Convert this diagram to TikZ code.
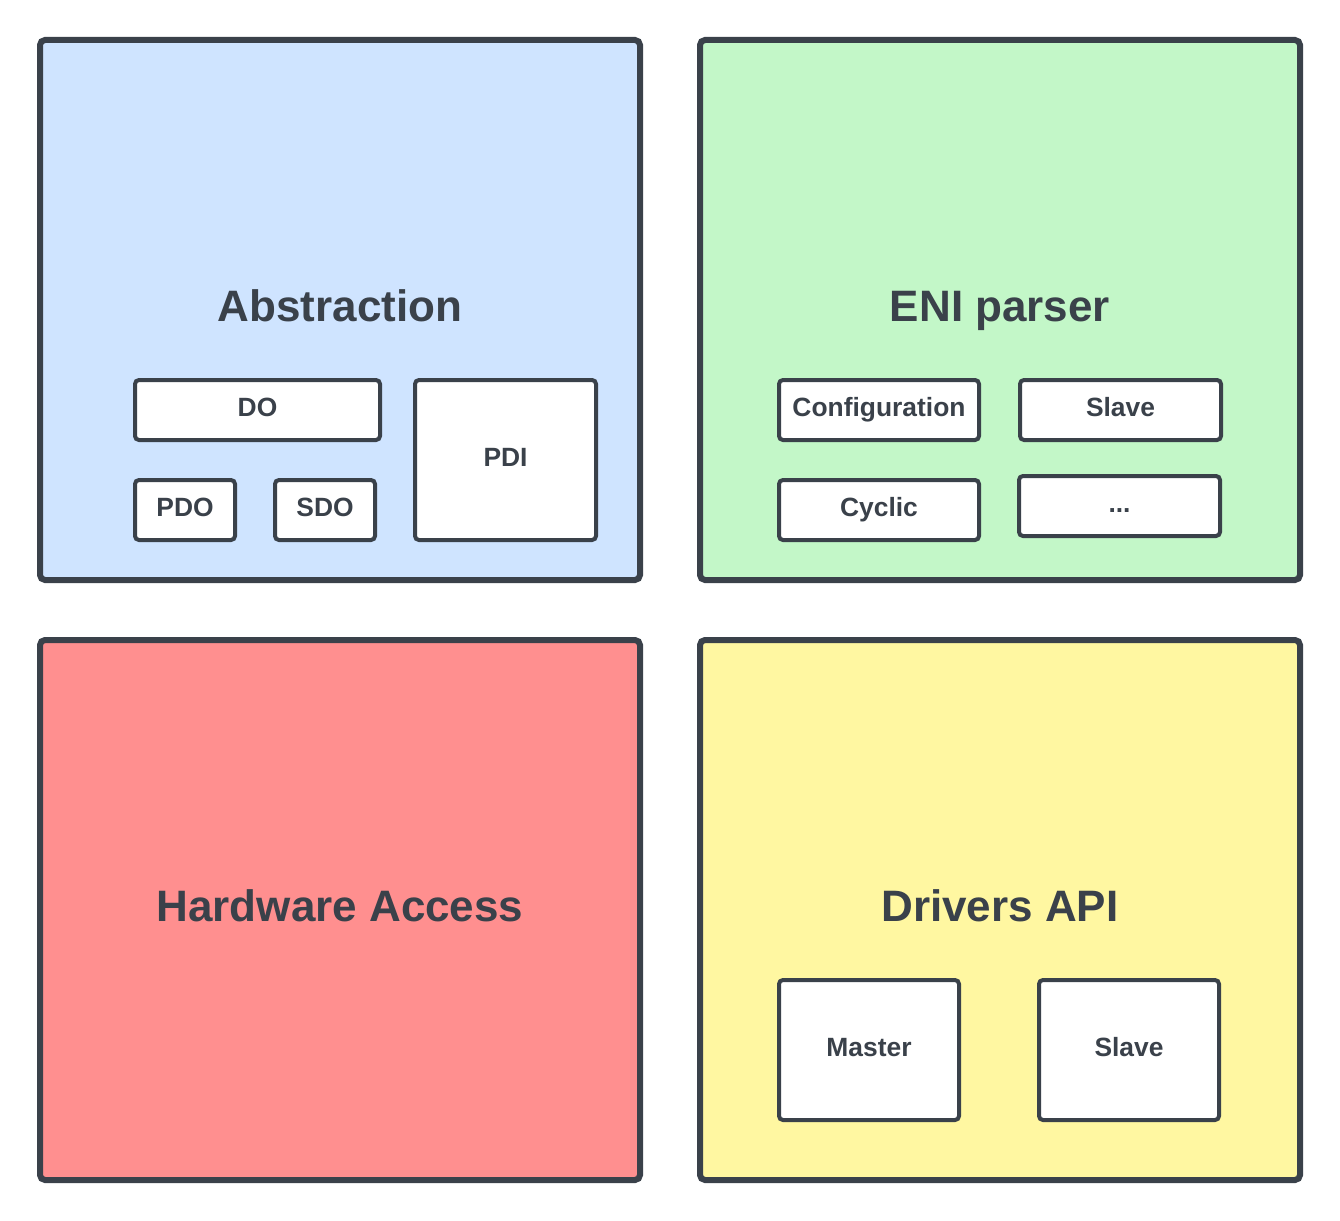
\documentclass[tikz,border=0pt]{standalone}
\usepackage{fontspec}
\setmainfont{Liberation Sans}
\usepackage{tikz}

\definecolor{edge}{HTML}{3A414A}
\definecolor{blueish}{HTML}{CFE4FF}
\definecolor{greenish}{HTML}{C3F7C8}
\definecolor{reddish}{HTML}{FF8F8F}
\definecolor{yellowish}{HTML}{FFF7A1}

\begin{document}
\begin{tikzpicture}[x=1pt, y=-1pt,
  panel/.style={draw=edge, line width=6pt, rounded corners=5pt, text=edge,
    font=\fontsize{44}{50}\selectfont\bfseries, text height=31.7pt, text depth=9.2pt,
    minimum width=600pt, minimum height=540pt},
  part/.style={draw=edge, fill=white, line width=4pt, rounded corners=4pt, text=edge,
    font=\fontsize{26.4}{30}\selectfont\bfseries, text height=19pt, text depth=5.5pt,
    inner sep=0pt}]
\useasboundingbox (0,0) rectangle (1340,1220);
\node[panel, fill=blueish] (abs) at (340,310){Abstraction};
\node[panel, fill=greenish] (eni) at (1000,310){ENI parser};
\node[panel, fill=reddish] (hw) at (340,910){Hardware Access};
\node[panel, fill=yellowish] (drv) at (1000,910){Drivers API};
\node[part, minimum width=245pt, minimum height=60pt] (do) at (257.5,410){DO};
\node[part, minimum width=100pt, minimum height=60pt] (pdo) at (185,510){PDO};
\node[part, minimum width=100pt, minimum height=60pt] (sdo) at (325,510){SDO};
\node[part, minimum width=181pt, minimum height=160pt] (pdi) at (505.5,460){PDI};
\node[part, minimum width=200pt, minimum height=60pt] (conf) at (879,410){Configuration};
\node[part, minimum width=201pt, minimum height=60pt] (slv) at (1120.5,410){Slave};
\node[part, minimum width=200pt, minimum height=60pt] (cyc) at (879,510){Cyclic};
\node[part, minimum width=201pt, minimum height=60pt] (more) at (1119.5,506){...};
\node[part, minimum width=180pt, minimum height=140pt] (master) at (869,1050){Master};
\node[part, minimum width=180pt, minimum height=140pt] (slave) at (1129,1050){Slave};
\end{tikzpicture}
\end{document}
